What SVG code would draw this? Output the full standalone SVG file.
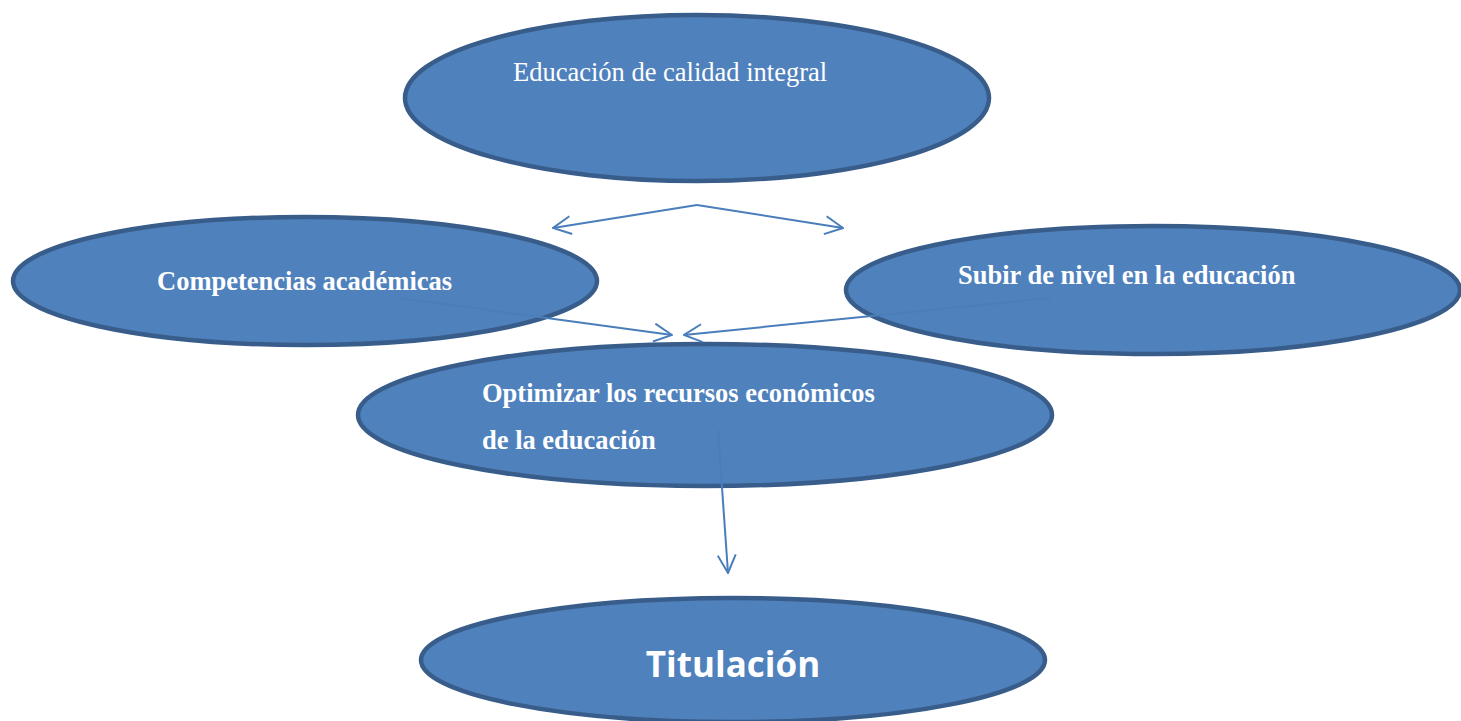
<svg xmlns="http://www.w3.org/2000/svg" width="1461" height="721" viewBox="0 0 1461 721">
<style>
.node{fill:#4F81BD;stroke:#385D8A;stroke-width:4.5}
.serif{font-family:"Liberation Serif","Times New Roman",serif;fill:#fff;font-size:26.5px}
.b{font-weight:bold}
.conn{stroke:#4A7EBB;stroke-width:2;fill:none}
</style>
<defs>
<marker id="arr" viewBox="0 0 20 20" refX="19" refY="10" markerWidth="20" markerHeight="20" markerUnits="userSpaceOnUse" orient="auto">
<path d="M1,1 L19,10 L1,19" fill="none" stroke="#4A7EBB" stroke-width="2"/>
</marker>
</defs>
<rect width="1461" height="721" fill="#fff"/>
<g id="n1"><ellipse class="node" cx="697" cy="98" rx="292" ry="83"/><text class="serif" x="513" y="81">Educación de calidad integral</text></g>
<g id="n2"><ellipse class="node" cx="305" cy="281" rx="292" ry="64"/><text class="serif b" x="157" y="290">Competencias académicas</text></g>
<g id="n3"><ellipse class="node" cx="1153" cy="290" rx="307" ry="64"/><text class="serif b" x="958" y="284">Subir de nivel en la educación</text></g>
<g id="n4"><ellipse class="node" cx="705" cy="415" rx="347" ry="71"/><text class="serif b" x="482" y="402">Optimizar los recursos económicos</text><text class="serif b" x="482" y="449">de la educación</text></g>
<g id="n5"><ellipse class="node" cx="733" cy="660" rx="312" ry="62"/><text x="733" y="677" text-anchor="middle" font-family="'Open Sans','Noto Sans',sans-serif" font-weight="bold" font-size="35" fill="#fff">Titulación</text></g>
<g id="connectors">
<path class="conn" d="M697,205 L553,228" marker-end="url(#arr)"/>
<path class="conn" d="M697,205 L843,228" marker-end="url(#arr)"/>
<path class="conn" d="M400,298 L672,335" marker-end="url(#arr)"/>
<path class="conn" d="M1050,298 L684,335" marker-end="url(#arr)"/>
<path class="conn" d="M718,430 L728,573" marker-end="url(#arr)"/>
</g>
</svg>
